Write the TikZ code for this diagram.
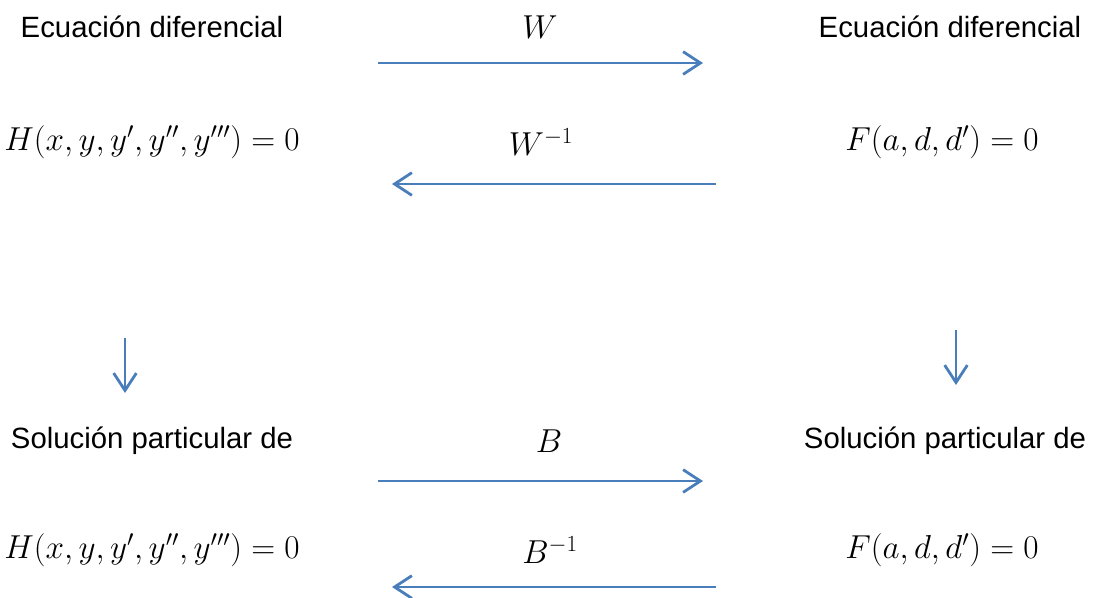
\documentclass[tikz,border=0pt]{standalone}
\usepackage[no-math]{fontspec}
\setmainfont{Liberation Sans}
\usetikzlibrary{arrows.meta}
\definecolor{arrowblue}{HTML}{4A7EBB}
\begin{document}
\begin{tikzpicture}[x=0.75pt,y=-0.75pt,
  lbl/.style={inner sep=0pt,font=\fontsize{22}{26}\selectfont},
  mth/.style={inner sep=0pt,font=\fontsize{23.5}{28}\selectfont},
  conn/.style={draw=arrowblue,line width=2.1pt,-{Straight Barb[length=13pt,width=17pt,line width=2.1pt]}}]
\useasboundingbox (0,0) rectangle (1096,597);
% top row
\node[lbl] (ed1) at (152,27) {Ecuación diferencial};
\node[lbl] (ed2) at (950,27) {Ecuación diferencial};
\node[mth] (W) at (540,27) {$W$};
\node[mth] (H1) at (152,142) {$H(x,y,y',y'',y''')=0$};
\node[mth] (Wi) at (541,142) {$W^{-1}$};
\node[mth] (F1) at (942,142) {$F(a,d,d')=0$};
% bottom row
\node[lbl] (sp1) at (152,441) {Solución particular de};
\node[lbl] (sp2) at (945,441) {Solución particular de};
\node[mth] (B) at (549,441) {$B$};
\node[mth] (H2) at (152,550) {$H(x,y,y',y'',y''')=0$};
\node[mth] (Bi) at (550,550) {$B^{-1}$};
\node[mth] (F2) at (942,550) {$F(a,d,d')=0$};
% arrow end points
\coordinate (a1s) at (378,63);  \coordinate (a1e) at (703,63);
\coordinate (a2s) at (716,184); \coordinate (a2e) at (392,184);
\coordinate (a3s) at (378,481); \coordinate (a3e) at (703,481);
\coordinate (a4s) at (716,587); \coordinate (a4e) at (392,587);
\coordinate (d1s) at (125,338); \coordinate (d1e) at (125,393);
\coordinate (d2s) at (956,330); \coordinate (d2e) at (956,385);
\draw[conn] (a1s) -- (a1e);
\draw[conn] (a2s) -- (a2e);
\draw[conn] (a3s) -- (a3e);
\draw[conn] (a4s) -- (a4e);
\draw[conn] (d1s) -- (d1e);
\draw[conn] (d2s) -- (d2e);
\end{tikzpicture}
\end{document}
